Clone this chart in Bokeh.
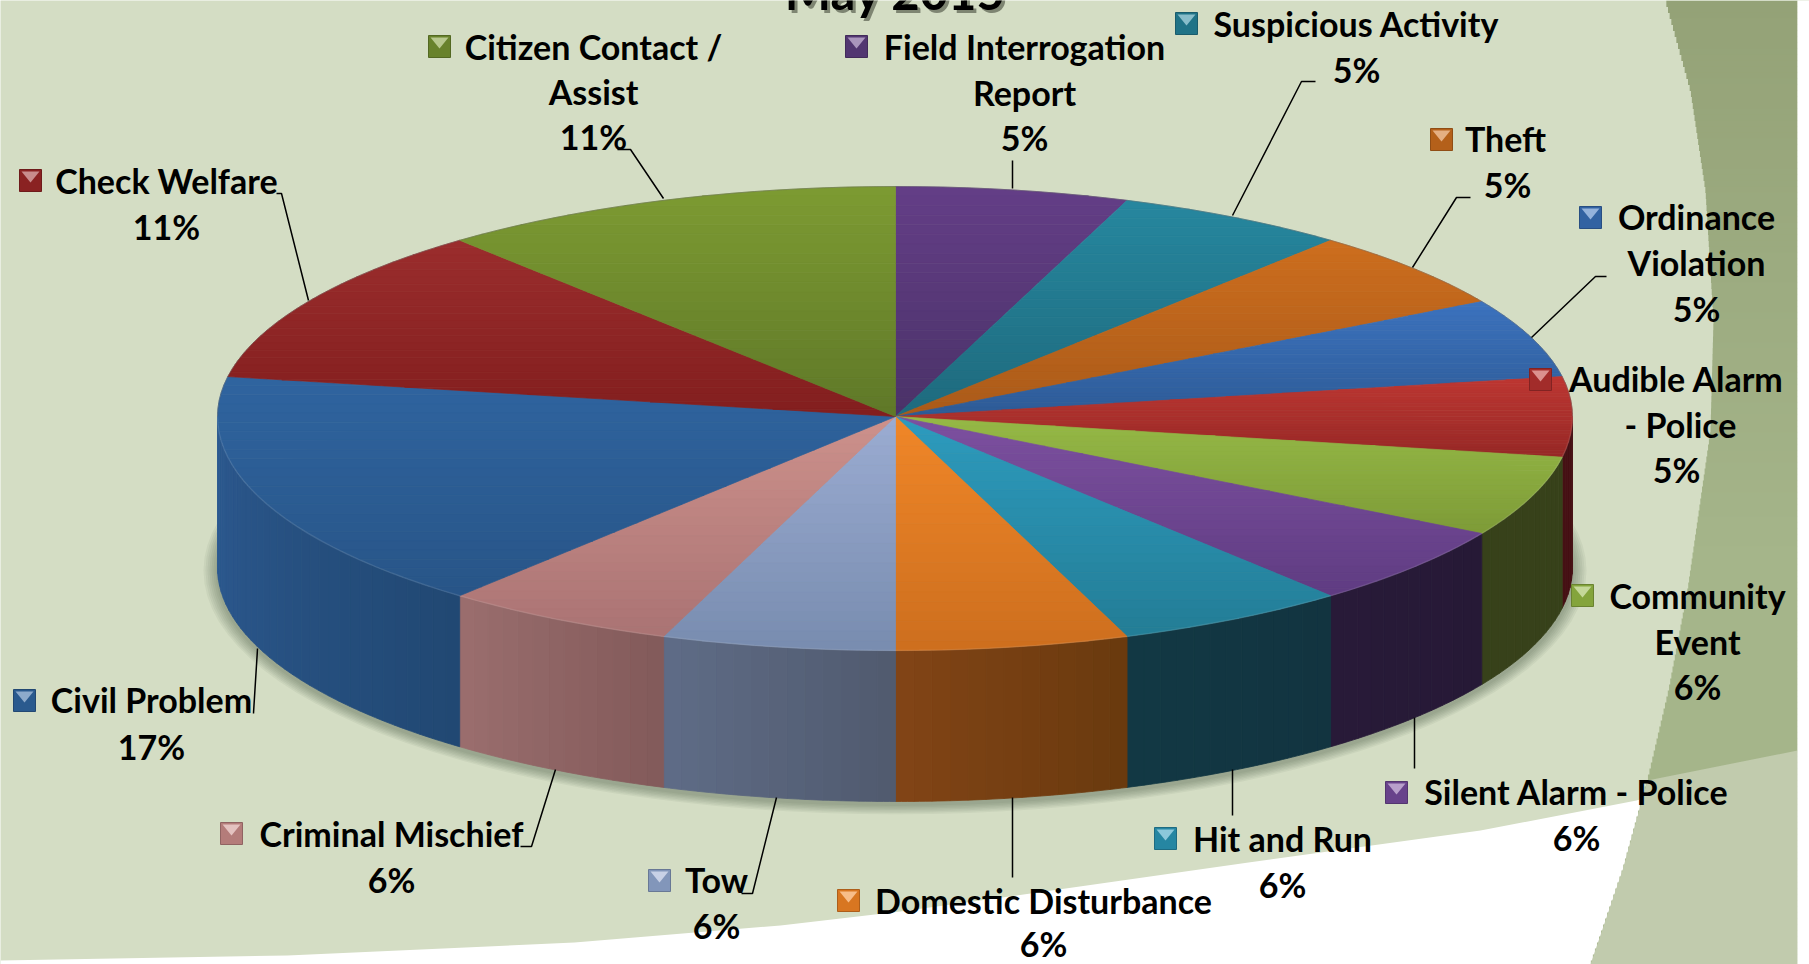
import math
import numpy as np
from bokeh.plotting import figure
from bokeh.models import Range1d
from bokeh.core.properties import value
from bokeh.embed import file_html
from bokeh.resources import INLINE

# ---- data ----
categories = ["Field Interrogation Report", "Suspicious Activity", "Theft", "Ordinance Violation",
              "Audible Alarm - Police", "Community Event", "Silent Alarm - Police", "Hit and Run",
              "Domestic Disturbance", "Tow", "Criminal Mischief", "Civil Problem", "Check Welfare",
              "Citizen Contact / Assist"]
shares = [1, 1, 1, 1, 1, 1, 1, 1, 1, 1, 1, 3, 2, 2]
percent_labels = ["5%", "5%", "5%", "5%", "5%", "6%", "6%", "6%", "6%", "6%", "6%", "17%", "11%", "11%"]
title_text = "May 2015"

# top-surface colour (upper, lower), wall colour (left, right), marker colour
top_hi = ["#643E87", "#26879F", "#CD6E1E", "#3C73BE", "#BE3732", "#96B946", "#7D50A0", "#2D9BBE",
          "#F08728", "#9BACD2", "#CD918C", "#2F64A0", "#9B2D2D", "#7D9B32"]
top_lo = ["#4A3268", "#1E6A7D", "#AA5A19", "#2D5A96", "#962826", "#7D9B37", "#5F3C82", "#237D96",
          "#CD6E1E", "#788CAF", "#AA7373", "#285587", "#821E1E", "#5F7828"]
wall_l = ["#000000", "#000000", "#000000", "#000000", "#461014", "#37411A", "#281A38", "#123844",
          "#824416", "#5F6C87", "#9B6E6E", "#2D5A91", "#000000", "#000000"]
wall_r = ["#000000", "#000000", "#000000", "#000000", "#461014", "#37411A", "#261936", "#123440",
          "#693A0E", "#505A6E", "#825A5A", "#214873", "#000000", "#000000"]

W, H = 1809, 964
p = figure(width=W, height=H, x_range=Range1d(0, W), y_range=Range1d(H, 0),
           output_backend="svg", toolbar_location=None, min_border=0, outline_line_color=None,
           background_fill_color="#D4DDC4", border_fill_color="#D4DDC4")
p.axis.visible = False
p.grid.visible = False
p.styles = {"position": "absolute", "left": "0", "top": "0"}


def mix(a, b, t):
    ca = [int(a[i:i + 2], 16) for i in (1, 3, 5)]
    cb = [int(b[i:i + 2], 16) for i in (1, 3, 5)]
    return "#%02X%02X%02X" % tuple(round(u + (v - u) * t) for u, v in zip(ca, cb))


# ---- slide background ----
RIGHT = 1797
p.patch([0, 287, 574, 780, 900, 1016, 1248, 1480, 1636, RIGHT, RIGHT, 0],
        [960, 955, 942, 925, 911, 895, 862, 830, 800, 752, 964, 964], color="#FFFFFF", line_width=0)
edge_y = [0, 90, 190, 320, 430, 590, 690, 775, 870, 964]
edge_x = [1665, 1690, 1705, 1713, 1710, 1687, 1668, 1648, 1622, 1590]
band_top = np.arange(0, 964, 6)
bx = np.interp(band_top + 3, edge_y, edge_x)
band_cols = [mix("#94A277", "#A5B58A", min(1, float(y) / 560)) for y in band_top]
p.quad(left=bx, right=[RIGHT] * len(bx), top=band_top, bottom=band_top + 6.5,
       fill_color=band_cols, line_width=0, line_color=None)
p.patch([1647, RIGHT, RIGHT, 1590, 1622], [780, 750, 964, 964, 870], color="#C1CBAD", line_width=0)
p.quad(left=[RIGHT], right=[W], top=[0], bottom=[H], fill_color="#FFFFFF", line_color=None)

# ---- pie geometry ----
cx, cy, rxl, rxr, ryt, ryb, depth = 895, 416, 678, 677, 230, 234, 151


def pt(deg):
    s, c = math.sin(math.radians(deg)), math.cos(math.radians(deg))
    return cx + s * (rxr if s > 0 else rxl), cy - c * (ryt if c > 0 else ryb)


def clip(poly, y0, y1):
    def cut(pts, keep, yb):
        out = []
        for i, a in enumerate(pts):
            b = pts[(i + 1) % len(pts)]
            if keep(a[1]):
                out.append(a)
            if keep(a[1]) != keep(b[1]):
                t = (yb - a[1]) / (b[1] - a[1])
                out.append((a[0] + (b[0] - a[0]) * t, yb))
        return out
    q = cut(poly, lambda y: y >= y0, y0)
    return cut(q, lambda y: y <= y1, y1) if q else q


total = sum(shares)
edges = [0]
for s in shares:
    edges.append(edges[-1] + 360 * s / total)

# soft shadow under the pie
for k in range(7):
    grow = 14 - 2 * k
    ang = [i * 3 for i in range(121)]
    xs = [pt(a)[0] + math.sin(math.radians(a)) * grow for a in ang]
    ys = [pt(a)[1] + depth + 3 + math.cos(math.radians(a)) * -grow * 0.7 for a in ang]
    p.patch(xs, ys, color="#3A4030", alpha=0.06, line_width=0)

# side walls, as narrow shaded strips
for i in range(len(shares)):
    a0, a1 = max(edges[i], 90), min(edges[i + 1], 270)
    if a1 <= a0:
        continue
    n = max(1, int((a1 - a0) / 1.5))
    xs, ys, cs = [], [], []
    for j in range(n):
        u0, u1 = a0 + (a1 - a0) * j / n, a0 + (a1 - a0) * (j + 1) / n
        # clockwise angle grows towards the left of the picture
        t = 1 - (j + .5) / n
        arc = [pt(u0 + (u1 - u0) * m / 3) for m in range(4)]
        xs.append([q[0] for q in arc] + [q[0] for q in reversed(arc)])
        ys.append([q[1] for q in arc] + [q[1] + depth for q in reversed(arc)])
        cs.append(mix(wall_l[i], wall_r[i], t))
    p.patches(xs, ys, fill_color=cs, line_color=cs, line_width=0.8)

# top surface, as horizontal shaded bands of each wedge
for i in range(len(shares)):
    a0, a1 = edges[i], edges[i + 1]
    n = max(2, int((a1 - a0) / 2))
    poly = [(cx, cy)] + [pt(a0 + (a1 - a0) * m / n) for m in range(n + 1)]
    ymin, ymax = min(q[1] for q in poly), max(q[1] for q in poly)
    bands = 24
    xs, ys, cs = [], [], []
    for b in range(bands):
        y0 = ymin + (ymax - ymin) * b / bands
        y1 = ymin + (ymax - ymin) * (b + 1) / bands
        q = clip(poly, y0, y1)
        if len(q) >= 3:
            xs.append([v[0] for v in q])
            ys.append([v[1] for v in q])
            cs.append(mix(top_hi[i], top_lo[i], (b + .5) / bands))
    p.patches(xs, ys, fill_color=cs, line_color=cs, line_width=0.7)

# thin rim light along the front edge of the top surface
rim = [pt(90 + m * 2) for m in range(91)]
p.line([q[0] for q in rim], [q[1] for q in rim], line_color="#FFFFFF", line_alpha=0.1, line_width=1.5)
rim = [pt(-90 + m * 2) for m in range(91)]
p.line([q[0] for q in rim], [q[1] for q in rim], line_color="#6A6A6A", line_alpha=0.45, line_width=1)

# ---- leader lines ----
leaders = [
    ([276, 281, 308], [193, 193, 300]),
    ([617, 630, 663], [149, 149, 198]),
    ([1012, 1012], [160, 188]),
    ([1315, 1301, 1232], [81, 81, 215]),
    ([1470, 1456, 1412], [197, 197, 267]),
    ([1606, 1595, 1531], [276, 276, 337]),
    ([253, 257], [713, 648]),
    ([520, 531, 555], [846, 846, 769]),
    ([741, 752, 776], [893, 893, 797]),
    ([1012, 1012], [797, 877]),
    ([1232, 1232], [769, 815]),
    ([1414, 1414], [717, 768]),
]
for lx, ly in leaders:
    p.line(lx, ly, line_color="#000000", line_width=1.5)

# ---- labels: marker position, then the lines as (x centre, y centre) ----
layout = {
    "Field Interrogation Report": ((856, 46), [(1024, 46), (1024, 92), (1024, 137)]),
    "Suspicious Activity": ((1186, 23), [(1356, 23), (1356, 69)]),
    "Theft": ((1441, 139), [(1505, 138), (1507, 184)]),
    "Ordinance Violation": ((1590, 217), [(1696, 216), (1696, 262), (1696, 308)]),
    "Audible Alarm - Police": ((1540, 379), [(1676, 378), (1680, 424), (1676, 469)]),
    "Community Event": ((1582, 595), [(1697, 595), (1697, 641), (1697, 686)]),
    "Silent Alarm - Police": ((1396, 792), [(1576, 791), (1576, 837)]),
    "Hit and Run": ((1165, 838), [(1282, 838), (1282, 884)]),
    "Domestic Disturbance": ((848, 900), [(1043, 900), (1043, 943)]),
    "Tow": ((659, 880), [(716, 879), (716, 925)]),
    "Criminal Mischief": ((231, 833), [(391, 833), (391, 879)]),
    "Civil Problem": ((24, 700), [(151, 699), (151, 746)]),
    "Check Welfare": ((30, 180), [(166, 180), (166, 226)]),
    "Citizen Contact / Assist": ((439, 46), [(593, 46), (593, 91), (593, 136)]),
}
split = {
    "Field Interrogation Report": ["Field Interrogation", "Report"],
    "Ordinance Violation": ["Ordinance", "Violation"],
    "Audible Alarm - Police": ["Audible Alarm", "- Police"],
    "Community Event": ["Community", "Event"],
    "Citizen Contact / Assist": ["Citizen Contact /", "Assist"],
}
FONT = value("Lato")
SIZE = "34px"
for i, name in enumerate(categories):
    (mx, my), coords = layout[name]
    lines = split.get(name, [name]) + [percent_labels[i]]
    for (tx, ty), line in zip(coords, lines):
        p.text([tx], [ty], text=[line], text_font=FONT, text_font_size=SIZE, text_font_style="bold",
               text_align="center", text_baseline="middle", text_color="#000000")
    # bevelled legend key
    h = 11
    base = mix(top_hi[i], top_lo[i], 0.7)
    p.quad(left=[mx - h], right=[mx + h], top=[my - h], bottom=[my + h],
           fill_color=base, line_color=mix(base, "#000000", 0.2), line_width=1)
    p.patch([mx - h + 2, mx + h - 2, mx], [my - h + 2, my - h + 2, my + 2],
            color=mix(top_hi[i], "#FFFFFF", 0.45), line_width=0)

# ---- title with its drop shadow, cut by the top of the page ----
p.text([898], [-7], text=[title_text], text_font=FONT, text_font_size="49px", text_font_style="bold",
       text_align="center", text_baseline="middle", text_color="#5A5F50", text_alpha=0.7)
p.text([895], [-10], text=[title_text], text_font=FONT, text_font_size="49px", text_font_style="bold",
       text_align="center", text_baseline="middle", text_color="#000000")

open("out.html", "w").write(file_html(p, INLINE))
